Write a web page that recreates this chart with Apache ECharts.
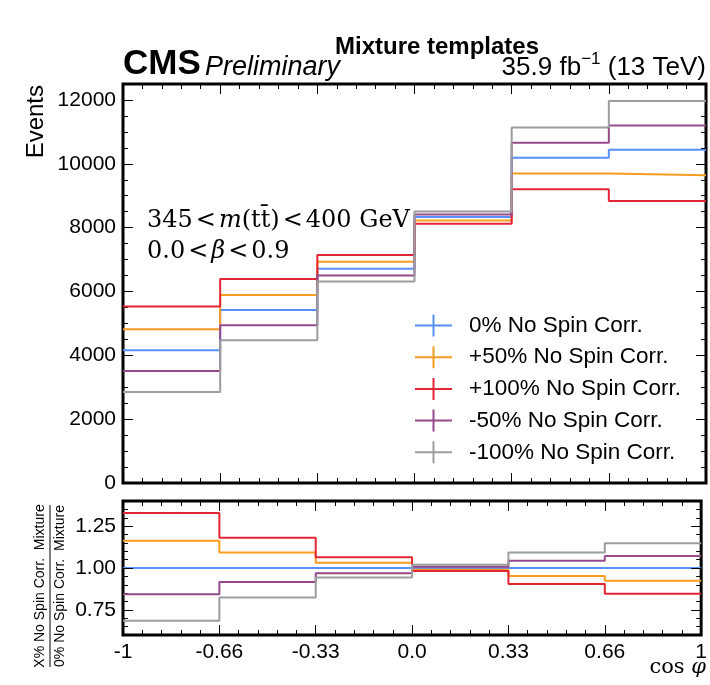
<!DOCTYPE html>
<html><head><meta charset="utf-8">
<script src="https://cdn.jsdelivr.net/npm/echarts@6/dist/echarts.min.js"></script>
<style>html,body{margin:0;padding:0;background:#fff}#c{width:710px;height:685px}</style>
</head><body><div id="c"></div>
<script>
// ---- data ----
const binEdges = [-1, -2/3, -1/3, 0, 1/3, 2/3, 1];
const xTickLabels = ['-1', '-0.66', '-0.33', '0.0', '0.33', '0.66', '1'];
const seriesNames = ['0% No Spin Corr.', '+50% No Spin Corr.', '+100% No Spin Corr.', '-50% No Spin Corr.', '-100% No Spin Corr.'];
const seriesColors = ['#5790fc', '#f89c20', '#e42536', '#964a8b', '#9c9ca1'];
const events0    = [4160, 5420, 6710, 8330, 10190, 10440];
const eventsP50  = [4820, 5890, 6930, 8225, 9695, 9640];
const eventsP100 = [5530, 6390, 7140, 8120, 9200, 8835];
const eventsM50  = [3510, 4940, 6500, 8415, 10660, 11200];
const eventsM100 = [2850, 4475, 6315, 8505, 11135, 11970];
const ratio0    = [1.0, 1.0, 1.0, 1.0, 1.0, 1.0];
const ratioP50  = [1.162, 1.092, 1.032, 0.990, 0.952, 0.924];
const ratioP100 = [1.328, 1.180, 1.064, 0.982, 0.904, 0.846];
const ratioM50  = [0.844, 0.916, 0.968, 1.008, 1.044, 1.072];
const ratioM100 = [0.685, 0.824, 0.944, 1.020, 1.092, 1.148];
const mainYTicks = [0, 2000, 4000, 6000, 8000, 10000, 12000];
const ratioYTicks = [0.75, 1.00, 1.25];

const eventsAll = [events0, eventsP50, eventsP100, eventsM50, eventsM100];
const ratioAll = [ratio0, ratioP50, ratioP100, ratioM50, ratioM100];

const FONT = '"Liberation Sans", Arial, Helvetica, sans-serif';
const SERIF = '"DejaVu Serif", "Liberation Serif", serif';

// minor tick positions (styling only)
const xMinor = [];
for (let i = 0; i < 6; i++) for (let k = 1; k < 5; k++) xMinor.push(binEdges[i] + k * (1/15));
const yMainMinor = [];
for (let v = 500; v < 12500; v += 500) if (v % 2000 !== 0) yMainMinor.push(v);
const yRatioMinor = [];
for (let k = 13; k <= 27; k++) { const v = k * 0.05; if (Math.abs(v/0.25 - Math.round(v/0.25)) > 1e-6) yRatioMinor.push(+v.toFixed(2)); }

function makeAxes(dim, gridIndex, min, max, majors, minors, showLabels, fmt) {
  const pos = dim === 'x' ? ['bottom', 'top'] : ['left', 'right'];
  const base = (position, ticks, len, labels) => ({
    type: 'value', gridIndex, min, max, position,
    axisLine: { show: false, onZero: false },
    splitLine: { show: false }, minorTick: { show: false }, splitArea: { show: false },
    axisTick: { show: true, inside: true, length: len, customValues: ticks, lineStyle: { color: '#000', width: 1 } },
    axisLabel: labels ? { show: true, customValues: majors, formatter: fmt, fontSize: 21, fontFamily: FONT, color: '#000', margin: 7 } : { show: false },
    z: 5
  });
  return [base(pos[0], majors, 10, showLabels), base(pos[0], minors, 5, false),
          base(pos[1], majors, 10, false), base(pos[1], minors, 5, false)];
}

const xFmt = v => { const i = binEdges.findIndex(e => Math.abs(e - v) < 1e-6); return i >= 0 ? xTickLabels[i] : ''; };

const xAxes = [].concat(
  makeAxes('x', 0, -1, 1, binEdges, xMinor, false),
  makeAxes('x', 1, -1, 1, binEdges, xMinor, true, xFmt)
);
const yAxes = [].concat(
  makeAxes('y', 0, 0, 12500, mainYTicks, yMainMinor, true, v => String(v)),
  makeAxes('y', 1, 0.6, 1.4, ratioYTicks, yRatioMinor, true, v => v.toFixed(2))
);

function stepData(vals) {
  const d = vals.map((v, i) => [binEdges[i], v]);
  d.push([binEdges[binEdges.length - 1], vals[vals.length - 1]]);
  return d;
}

const series = [];
eventsAll.forEach((vals, i) => series.push({
  type: 'line', name: seriesNames[i], xAxisIndex: 0, yAxisIndex: 0, step: 'end',
  data: stepData(vals), symbol: 'none', color: seriesColors[i],
  lineStyle: { width: 2, color: seriesColors[i] }, z: 3 + i, silent: true
}));
ratioAll.forEach((vals, i) => series.push({
  type: 'line', name: seriesNames[i], xAxisIndex: 4, yAxisIndex: 4, step: 'end',
  data: stepData(vals), symbol: 'none', color: seriesColors[i],
  lineStyle: { width: 2, color: seriesColors[i] }, z: 3 + i, silent: true
}));

const opStyle = { fontSize: 24, fontFamily: SERIF, padding: [0, 3, 0, 3] };
const chart = echarts.init(document.getElementById('c'), null, { renderer: 'canvas' });
chart.setOption({
  animation: false,
  backgroundColor: '#fff',
  grid: [
    { left: 123, top: 84, width: 583, height: 399, show: true, borderColor: '#000', borderWidth: 3, backgroundColor: 'transparent', containLabel: false },
    { left: 123, top: 501, width: 583, height: 134, show: true, borderColor: '#000', borderWidth: 3, backgroundColor: 'transparent', containLabel: false }
  ],
  xAxis: xAxes,
  yAxis: yAxes,
  legend: {
    data: seriesNames, orient: 'vertical', left: 415, top: 314, padding: 0,
    itemWidth: 37, itemHeight: 22, itemGap: 8.7, selectedMode: false,
    icon: 'path://M0,10 L37,10 L37,12 L0,12 Z M17.5,0 L19.5,0 L19.5,22 L17.5,22 Z',
    itemStyle: { borderWidth: 0 },
    textStyle: { fontSize: 22.5, fontFamily: FONT, color: '#000', lineHeight: 22, padding: [0, 0, 0, 12] }
  },
  series: series,
  graphic: [
    { type: 'text', x: 437, y: 47, style: { text: 'Mixture templates', font: 'bold 24px ' + FONT, fill: '#000', textAlign: 'center', textVerticalAlign: 'middle' } },
    { type: 'text', x: 123, y: 64, style: { text: 'CMS', font: 'bold 35px ' + FONT, fill: '#000', textAlign: 'left', textVerticalAlign: 'middle' } },
    { type: 'text', x: 205, y: 67, style: { text: 'Preliminary', font: 'italic 27px ' + FONT, fill: '#000', textAlign: 'left', textVerticalAlign: 'middle' } },
    { type: 'text', x: 706, y: 66, style: {
        text: '{a|35.9 fb}{s|\u22121}{a| (13 TeV)}', textAlign: 'right', textVerticalAlign: 'middle', fill: '#000',
        rich: { a: { fontSize: 26, fontFamily: FONT, lineHeight: 30, verticalAlign: 'bottom' },
                s: { fontSize: 17, fontFamily: FONT, lineHeight: 30, verticalAlign: 'top' } } } },
    { type: 'text', x: 36, y: 85, rotation: Math.PI / 2, style: { text: 'Events', font: '24px ' + FONT, fill: '#000', textAlign: 'right', textVerticalAlign: 'middle' } },
    { type: 'text', x: 147, y: 221, style: {
        text: '{r|345}{o|<}{i|m}{r|(t\u0074\u0304)}{o|<}{r|400 GeV}', textAlign: 'left', textVerticalAlign: 'middle', fill: '#000',
        rich: { r: { fontSize: 24, fontFamily: SERIF }, i: { fontSize: 24, fontFamily: SERIF, fontStyle: 'italic' }, o: opStyle } } },
    { type: 'text', x: 147, y: 252, style: {
        text: '{r|0.0}{o|<}{i|\u03b2}{o|<}{r|0.9}', textAlign: 'left', textVerticalAlign: 'middle', fill: '#000',
        rich: { r: { fontSize: 24, fontFamily: SERIF }, i: { fontSize: 24, fontFamily: SERIF, fontStyle: 'italic' }, o: opStyle } } },
    { type: 'text', x: 706, y: 668, style: {
        text: '{r|cos }{i|\u03c6}', textAlign: 'right', textVerticalAlign: 'middle', fill: '#000',
        rich: { r: { fontSize: 21, fontFamily: SERIF }, i: { fontSize: 21, fontFamily: SERIF, fontStyle: 'italic' } } } },
    { type: 'text', x: 40, y: 586, rotation: Math.PI / 2, style: { text: 'X% No Spin Corr.  Mixture', font: '14px ' + FONT, fill: '#000', textAlign: 'center', textVerticalAlign: 'middle' } },
    { type: 'line', shape: { x1: 50, y1: 505, x2: 50, y2: 667 }, style: { stroke: '#000', lineWidth: 1 } },
    { type: 'text', x: 60, y: 586, rotation: Math.PI / 2, style: { text: '0% No Spin Corr.  Mixture', font: '14px ' + FONT, fill: '#000', textAlign: 'center', textVerticalAlign: 'middle' } }
  ]
});
</script></body></html>
